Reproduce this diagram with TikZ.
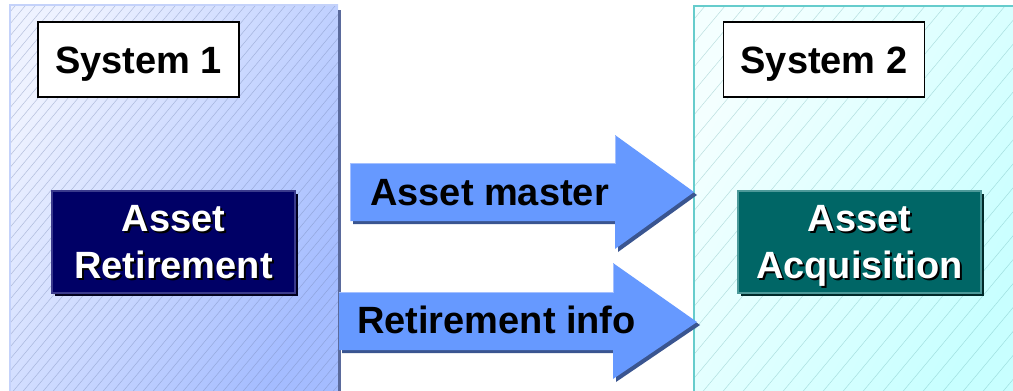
\documentclass[tikz,border=0pt]{standalone}
\usepackage{fontspec}
\setmainfont{Liberation Sans}
\usetikzlibrary{shadows}

\definecolor{oneLight}{HTML}{EEF2FF}
\definecolor{oneDark}{HTML}{A4BCFF}
\definecolor{oneEdge}{HTML}{C4D2FA}
\definecolor{oneShadow}{HTML}{5A6A9C}
\definecolor{twoLight}{HTML}{F4FFFF}
\definecolor{twoDark}{HTML}{C8FFFF}
\definecolor{twoEdge}{HTML}{66CCCC}
\definecolor{arrowFill}{HTML}{6699FF}
\definecolor{arrowLight}{HTML}{A4C0FF}
\definecolor{arrowShadow}{HTML}{3A5590}
\definecolor{retNavy}{HTML}{000066}
\definecolor{retEdge}{HTML}{3A3A8C}
\definecolor{acqTeal}{HTML}{006666}
\definecolor{acqEdge}{HTML}{4C9999}

\tikzset{
  bigfont/.style={font=\bfseries\fontsize{38}{47}\selectfont},
  sysbox/.style={bigfont, draw=black, line width=1.5pt, fill=white,
    minimum width=201pt, minimum height=75pt, text height=27pt, text depth=0pt},
  taskbox/.style={minimum width=243pt, minimum height=102pt, line width=1.2pt},
  tasktext/.style={bigfont, align=center, text=white, text depth=0pt, inner sep=0pt},
  flowtext/.style={bigfont, inner sep=0pt},
  hatchone/.style={draw=black!30!oneDark, line width=0.5pt, opacity=0.45},
  hatchtwo/.style={draw=twoEdge!80!black, line width=0.5pt, opacity=0.35}
}

\begin{document}
\begin{tikzpicture}[x=1pt,y=-1pt]
\useasboundingbox (0,0) rectangle (1013,391);

% system 1 panel
\shade[top color=oneLight, bottom color=oneDark, shading angle=60] (9,4) rectangle (338,395);
\begin{scope}
\clip (9,4) rectangle (338,395);
\foreach \x in {-330,-320,...,340}
  \draw[hatchone] (\x,395) -- ++(330,-395);
\end{scope}
\fill[oneShadow] (338,10) rectangle (341,395);
\draw[oneEdge, line width=2pt] (10,395) -- (10,5) -- (338,5);

% system 2 panel
\shade[top color=twoLight, bottom color=twoDark, shading angle=60] (694,6) rectangle (1015,395);
\begin{scope}
\clip (694,6) rectangle (1015,395);
\foreach \x in {360,380,...,1020}
  \draw[hatchtwo] (\x,395) -- ++(330,-395);
\end{scope}
\draw[twoEdge, line width=2pt] (694,395) -- (694,6) -- (1015,6);

% system titles
\node[sysbox] (sys1) at (138.5,59.5) {System 1};
\node[sysbox] (sys2) at (824,59.5) {System 2};

% task boxes with white shadowed text
\node[taskbox, fill=retNavy, draw=retEdge,
  drop shadow={shadow xshift=3pt, shadow yshift=-3pt, fill=black!70!retNavy, opacity=1}]
  (retbox) at (173.5,242) {};
\node[tasktext, text=black] (retshadow) at ([shift={(2,2)}]retbox.center) {Asset\\Retirement};
\node[tasktext] (ret) at (retbox) {Asset\\Retirement};

\node[taskbox, fill=acqTeal, draw=acqEdge,
  drop shadow={shadow xshift=3pt, shadow yshift=-3pt, fill=black!60!acqTeal, opacity=1}]
  (acqbox) at (859.5,242) {};
\node[tasktext, text=black] (acqshadow) at ([shift={(2,2)}]acqbox.center) {Asset\\Acquisition};
\node[tasktext] (acq) at (acqbox) {Asset\\Acquisition};

% block arrows from system 1 to system 2
\fill[arrowShadow] (353,166) -- (618,166) -- (618,138) -- (697,195) -- (618,252) -- (618,224) -- (353,224) -- cycle;
\fill[arrowFill] (350,163) -- (615,163) -- (615,135) -- (694,192) -- (615,249) -- (615,221) -- (350,221) -- cycle;
\draw[arrowLight, line width=1.5pt] (350.5,221) -- (350.5,163.5) -- (615.5,163.5) -- (615.5,136);

\fill[arrowShadow] (342,295) -- (616,295) -- (616,266) -- (700,325) -- (616,382) -- (616,353) -- (342,353) -- cycle;
\fill[arrowFill] (339,292) -- (613,292) -- (613,263) -- (697,322) -- (613,379) -- (613,350) -- (339,350) -- cycle;
\draw[arrowLight, line width=1.5pt] (339,292.5) -- (613.5,292.5) -- (613.5,264);

\node[flowtext, anchor=base west] (master) at (370,205) {Asset master};
\node[flowtext, anchor=base west] (retinfo) at (357,333) {Retirement info};
\end{tikzpicture}
\end{document}
